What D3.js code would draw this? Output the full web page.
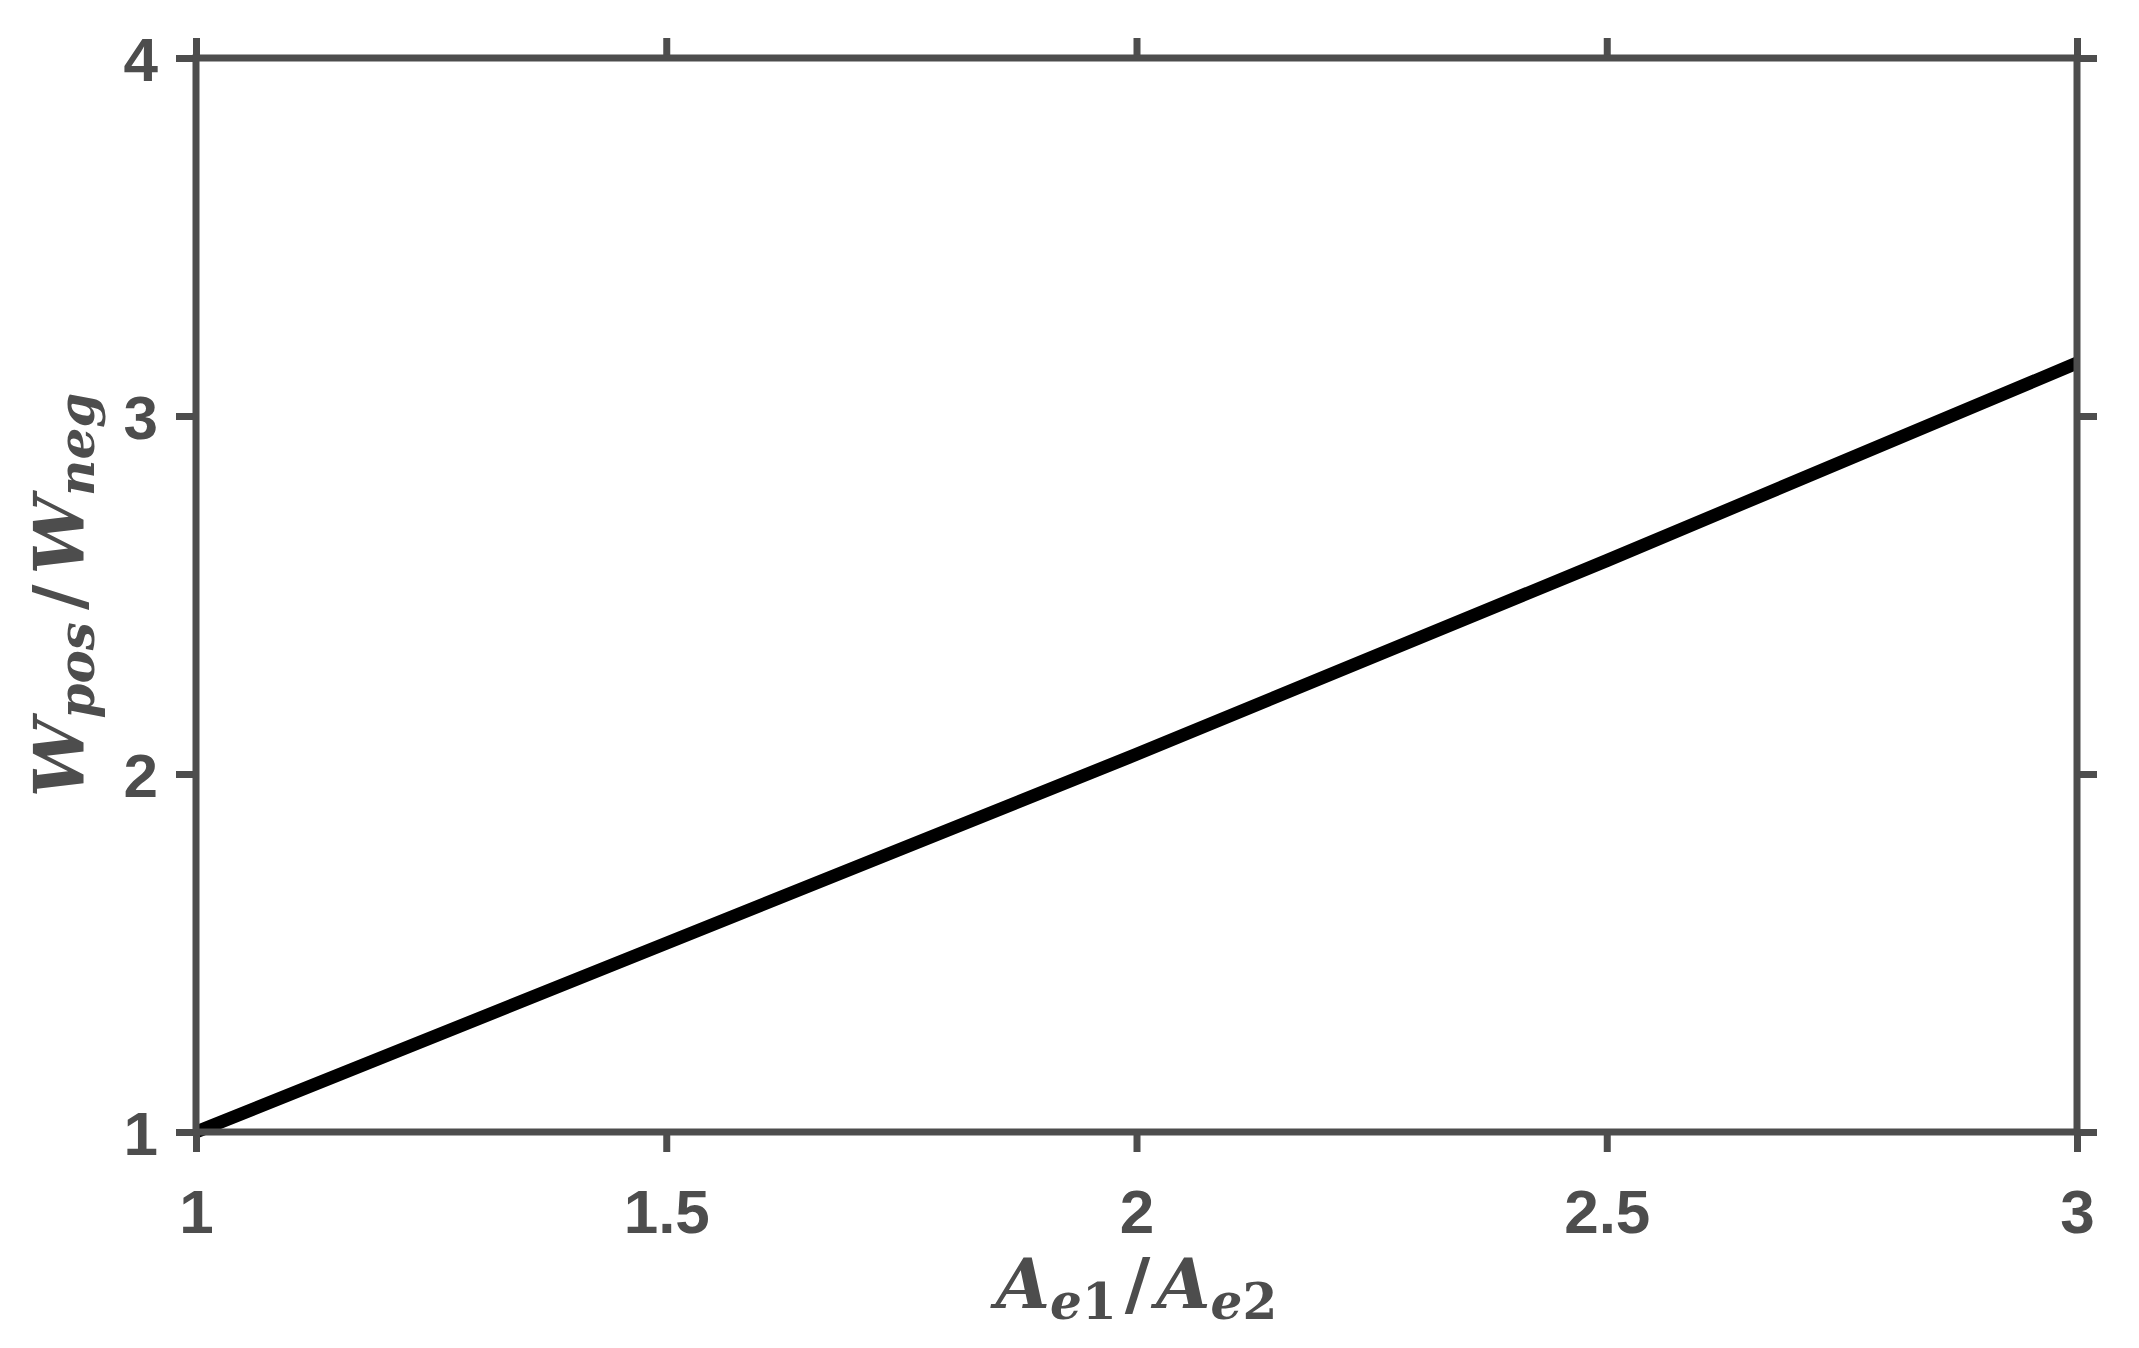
<!DOCTYPE html>
<html>
<head>
<meta charset="utf-8">
<script src="https://cdn.jsdelivr.net/npm/d3@7"></script>
<style>
  body { margin: 0; background: #fff; }
  svg { display: block; }
</style>
</head>
<body>
<svg id="chart"></svg>
<script>
// values
const areaRatio = [1, 1.5, 2, 2.5, 3];
const workRatio = [1, 1.527, 2.055, 2.596, 3.148];
const xTicks = [1, 1.5, 2, 2.5, 3];
const yTicks = [1, 2, 3, 4];

const WIDTH = 2139, HEIGHT = 1348;
const margin = {top: 58, right: 62, bottom: 216, left: 196};
const AXIS_COLOR = "#4d4d4d";
const AXIS_WIDTH = 7;
const TICK_LEN = 20;

const svg = d3.select("#chart").attr("width", WIDTH).attr("height", HEIGHT);
svg.append("rect").attr("width", "100%").attr("height", "100%").attr("fill", "#fff");

const xScale = d3.scaleLinear().domain([1, 3]).range([margin.left, WIDTH - margin.right]);
const yScale = d3.scaleLinear().domain([1, 4]).range([HEIGHT - margin.bottom, margin.top]);

//data line
const points = areaRatio.map((d, i) => [d, workRatio[i]]);
svg.append("path")
    .datum(points)
    .attr("fill", "none")
    .attr("stroke", "#000")
    .attr("stroke-width", 13)
    .attr("stroke-linecap", "butt")
    .attr("stroke-linejoin", "round")
    .attr("d", d3.line().x(d => xScale(d[0])).y(d => yScale(d[1])));

//axes, ticks pointing outward on all four sides
function styleAxis(g){
    g.select(".domain").remove();
    g.selectAll(".tick line").attr("stroke", AXIS_COLOR).attr("stroke-width", AXIS_WIDTH);
    g.selectAll(".tick text")
        .attr("fill", AXIS_COLOR)
        .attr("font-family", "'Liberation Sans', Arial, sans-serif")
        .attr("font-weight", "bold")
        .attr("font-size", 62);
}

const xBottom = svg.append("g")
    .attr("transform", `translate(0,${yScale(1)})`)
    .call(d3.axisBottom(xScale).tickValues(xTicks).tickSize(TICK_LEN).tickSizeOuter(0).tickFormat(d3.format("~g")))
    .call(styleAxis);
xBottom.selectAll(".tick text").attr("y", 101).attr("dy", 0);

svg.append("g")
    .attr("transform", `translate(0,${yScale(4)})`)
    .call(d3.axisTop(xScale).tickValues(xTicks).tickSize(TICK_LEN).tickSizeOuter(0).tickFormat(""))
    .call(styleAxis);

const yLeft = svg.append("g")
    .attr("transform", `translate(${xScale(1)},0)`)
    .call(d3.axisLeft(yScale).tickValues(yTicks).tickSize(TICK_LEN).tickSizeOuter(0).tickFormat(d3.format("d")))
    .call(styleAxis);
yLeft.selectAll(".tick text").attr("x", -38).attr("dy", "0.36em");

svg.append("g")
    .attr("transform", `translate(${xScale(3)},0)`)
    .call(d3.axisRight(yScale).tickValues(yTicks).tickSize(TICK_LEN).tickSizeOuter(0).tickFormat(""))
    .call(styleAxis);

//box
svg.append("rect")
    .attr("x", xScale(1)).attr("y", yScale(4))
    .attr("width", xScale(3) - xScale(1))
    .attr("height", yScale(1) - yScale(4))
    .attr("fill", "none")
    .attr("stroke", AXIS_COLOR)
    .attr("stroke-width", AXIS_WIDTH);

//axis titles (math style)
const SERIF = "'DejaVu Serif', 'Liberation Serif', serif";
function mathLabel(text, parts){
    text.attr("font-family", SERIF)
        .attr("font-weight", "bold")
        .attr("fill", AXIS_COLOR)
        .attr("text-anchor", "middle");
    parts.forEach(p => {
        let t = text.append("tspan").text(p.s)
            .attr("font-size", p.sub ? 50 : 70)
            .attr("font-style", p.italic ? "italic" : "normal");
        if (p.dy) t.attr("dy", p.dy);
        if (p.dx) t.attr("dx", p.dx);
    });
}

const xTitle = svg.append("text").attr("x", (xScale(1) + xScale(3)) / 2).attr("y", 1308);
mathLabel(xTitle, [
    {s: "A", italic: true},
    {s: "e", italic: true, sub: true, dy: 11},
    {s: "1", sub: true},
    {s: "/", dy: -11, dx: 8},
    {s: "A", italic: true, dx: 6},
    {s: "e", italic: true, sub: true, dy: 11},
    {s: "2", sub: true}
]);

const yTitle = svg.append("text")
    .attr("transform", `translate(83,${(yScale(1) + yScale(4)) / 2}) rotate(-90)`);
mathLabel(yTitle, [
    {s: "W", italic: true},
    {s: "pos", italic: true, sub: true, dy: 11},
    {s: "/", dy: -11, dx: 12},
    {s: "W", italic: true, dx: 10},
    {s: "neg", italic: true, sub: true, dy: 11}
]);
</script>
</body>
</html>
